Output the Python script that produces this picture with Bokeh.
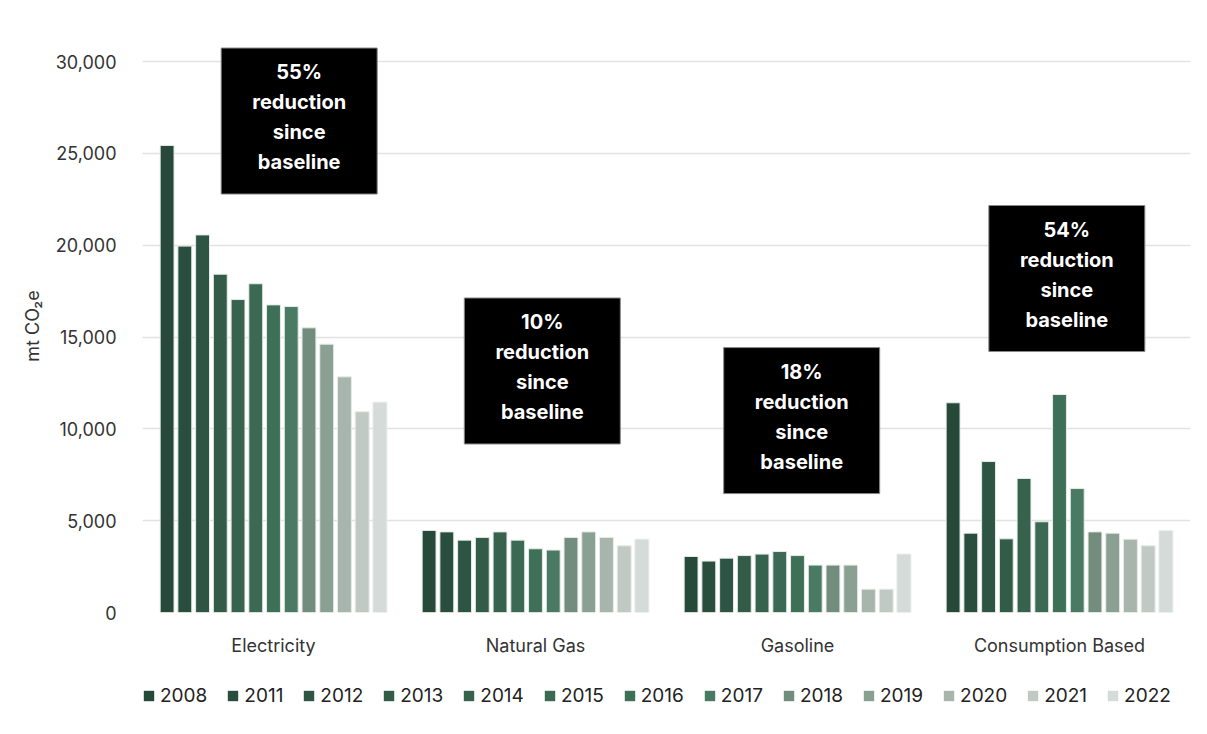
from bokeh.plotting import figure
from bokeh.layouts import column
from bokeh.models import ColumnDataSource, FactorRange, Range1d, Legend, LegendItem, NumeralTickFormatter, FixedTicker
from bokeh.transform import dodge
from bokeh.core.properties import value
from bokeh.embed import file_html
from bokeh.resources import INLINE

categories = ["Electricity", "Natural Gas", "Gasoline", "Consumption Based"]
years = ["2008", "2011", "2012", "2013", "2014", "2015", "2016", "2017", "2018", "2019", "2020", "2021", "2022"]

electricity = [25430, 19950, 20560, 18420, 17040, 17900, 16750, 16660, 15500, 14610, 12830, 10930, 11450]
natural_gas = [4470, 4390, 3940, 4090, 4390, 3940, 3470, 3400, 4090, 4390, 4090, 3630, 3990]
gasoline = [3050, 2800, 2960, 3100, 3180, 3320, 3100, 2580, 2580, 2580, 1270, 1270, 3180]
consumption = [11420, 4320, 8220, 4010, 7300, 4940, 11870, 6750, 4390, 4320, 3990, 3630, 4450]

colors = ["#27493a", "#2a4e3d", "#2e5443", "#325b48", "#37624e", "#3b6953", "#3e7058", "#4a7a63",
          "#728c7d", "#8aa092", "#a8b5ad", "#c0c9c4", "#d4dbd8"]

ann_cats = ["Electricity", "Natural Gas", "Gasoline", "Consumption Based"]
ann_texts = ["55%\nreduction\nsince\nbaseline", "10%\nreduction\nsince\nbaseline",
             "18%\nreduction\nsince\nbaseline", "54%\nreduction\nsince\nbaseline"]
ann_offsets = [0.098, 0.026, 0.016, 0.028]
ann_y = [26760, 13150, 10450, 18185]

FONT = "Inter"

p = figure(x_range=FactorRange(*categories, range_padding=0), y_range=Range1d(0, 31200),
           width=1200, height=664, output_backend="svg", toolbar_location=None,
           min_border_left=142, min_border_right=10, min_border_top=39, min_border_bottom=52)
p.outline_line_color = None
p.background_fill_color = "white"
p.border_fill_color = "white"

data = {"cat": categories}
for i, y in enumerate(years):
    data[y] = [electricity[i], natural_gas[i], gasoline[i], consumption[i]]
src = ColumnDataSource(data)

n = len(years)
slot = 0.88 / n
for i, y in enumerate(years):
    off = -0.44 + slot * (i + 0.5)
    p.vbar(x=dodge("cat", off, range=p.x_range), top=y, width=0.053, source=src,
           fill_color=colors[i], line_color="#e6ebe8", line_width=1)

# annotation boxes
for c, t, o, yy in zip(ann_cats, ann_texts, ann_offsets, ann_y):
    s = ColumnDataSource(dict(cat=[c], y=[yy], t=[t]))
    p.rect(x=dodge("cat", o, range=p.x_range), y="y", width=156, height=146,
           width_units="screen", height_units="screen", source=s,
           fill_color="black", line_color="#888888", line_width=1)
    p.text(x=dodge("cat", o, range=p.x_range), y="y", text="t", source=s,
           text_color="white", text_font=value(FONT), text_font_style="bold",
           text_font_size="20px", text_align="center", text_baseline="middle",
           text_line_height=1.25, y_offset=-4)

# axes
p.yaxis.ticker = FixedTicker(ticks=[0, 5000, 10000, 15000, 20000, 25000, 30000])
p.yaxis.formatter = NumeralTickFormatter(format="0,0")
p.yaxis.axis_line_color = None
p.yaxis.major_tick_line_color = None
p.yaxis.minor_tick_line_color = None
p.yaxis.major_label_standoff = 20
p.yaxis.major_label_text_font = FONT
p.yaxis.major_label_text_font_size = "18px"
p.yaxis.major_label_text_color = "#333333"
p.yaxis.axis_label = "mt CO₂e"
p.yaxis.axis_label_text_font = FONT
p.yaxis.axis_label_text_font_style = "normal"
p.yaxis.axis_label_text_font_size = "18px"
p.yaxis.axis_label_text_color = "#333333"
p.yaxis.axis_label_standoff = 10

p.xaxis.axis_line_color = None
p.xaxis.major_tick_line_color = None
p.xaxis.minor_tick_line_color = None
p.xaxis.major_label_standoff = 16
p.xaxis.major_label_text_font = FONT
p.xaxis.major_label_text_font_size = "18px"
p.xaxis.major_label_text_color = "#333333"

p.xgrid.grid_line_color = None
p.ygrid.grid_line_color = "#e2e2e2"
p.ygrid.grid_line_width = 1.5

# legend strip (proxy bars of zero height, only used for the legend)
lg = figure(width=1200, height=60, output_backend="svg", toolbar_location=None,
            x_range=Range1d(0, 1), y_range=Range1d(0, 1),
            min_border_left=126, min_border_right=0, min_border_top=0, min_border_bottom=0)
lg.axis.visible = False
lg.grid.visible = False
lg.outline_line_color = None
lg.background_fill_color = "white"
proxy = ColumnDataSource(dict(x=[0.5], top=[0.0]))
items = []
for i, y in enumerate(years):
    r = lg.vbar(x="x", top="top", width=0.001, source=proxy, fill_color=colors[i], line_color=None)
    items.append(LegendItem(label=y, renderers=[r]))
legend = Legend(items=items, orientation="horizontal", location=(0, 17),
                glyph_width=13, glyph_height=13, label_standoff=5, spacing=19,
                label_text_font=FONT, label_text_font_size="19px", label_text_color="#222222",
                border_line_color=None, background_fill_alpha=0, margin=0, padding=2)
lg.add_layout(legend, "center")

layout = column(p, lg, spacing=0)
open("out.html", "w").write(file_html(layout, INLINE))
